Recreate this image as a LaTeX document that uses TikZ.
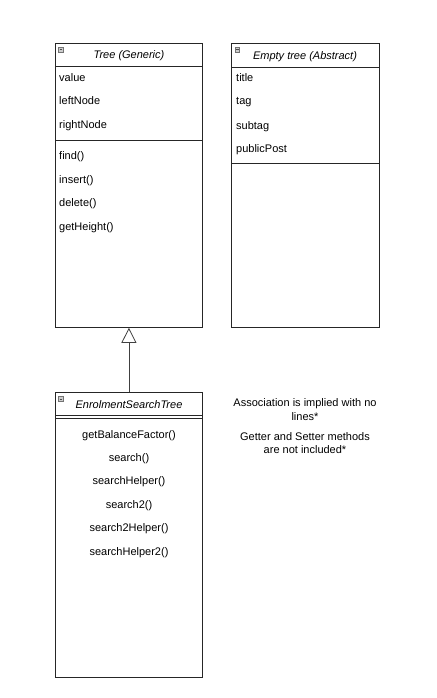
\documentclass[tikz,border=0pt]{standalone}
\usepackage{fontspec}
\setmainfont{Liberation Sans}
\usetikzlibrary{arrows.meta}
\begin{document}
\begin{tikzpicture}[x=1pt,y=-1pt,
  umlbox/.style={draw=black!85, line width=0.8pt, inner sep=0pt, anchor=north west, minimum width=147pt},
  sepline/.style={draw=black!85, line width=0.8pt},
  attr/.style={anchor=base west, inner sep=0pt, font=\fontsize{11}{13}\selectfont},
  cattr/.style={anchor=base, inner sep=0pt, font=\fontsize{11}{13}\selectfont},
  hdr/.style={anchor=base, inner sep=0pt, font=\fontsize{11}{13}\selectfont\itshape},
  note/.style={anchor=base, inner sep=0pt, font=\fontsize{11}{13}\selectfont},
  icon/.style={draw=black!55, fill=black!20, line width=0.4pt}
]
\useasboundingbox (0,0) rectangle (436,698);
\fill[white] (0,0) rectangle (436,698);

% Tree (Generic)
\node[umlbox, minimum height=284pt] (tree) at (55,43) {};
\draw[sepline] (55,66) -- (202,66);
\draw[sepline] (55,140) -- (202,140);
\draw[icon] (58.5,47.5) rectangle (63,52);
\draw[black!70, line width=0.5pt] (59.5,49.75) -- (62,49.75);
\node[hdr] (treeh) at (129,59) {Tree (Generic)};
\node[attr] (t1) at (59,81.5) {value};
\node[attr] (t2) at (59,105) {leftNode};
\node[attr] (t3) at (59,128.5) {rightNode};
\node[attr] (t4) at (59,159) {find()};
\node[attr] (t5) at (59,183) {insert()};
\node[attr] (t6) at (59,206) {delete()};
\node[attr] (t7) at (59,230) {getHeight()};

% Empty tree (Abstract)
\node[umlbox, minimum width=148pt, minimum height=284pt] (empty) at (231,43) {};
\draw[sepline] (231,67) -- (379,67);
\draw[sepline] (231,163) -- (379,163);
\draw[icon] (235,47.5) rectangle (239.5,52);
\draw[black!70, line width=0.5pt] (236,49.75) -- (238.5,49.75);
\node[hdr] (emptyh) at (305,59.5) {Empty tree (Abstract)};
\node[attr] (e1) at (236,82) {title};
\node[attr] (e2) at (236,105) {tag};
\node[attr] (e3) at (236,129) {subtag};
\node[attr] (e4) at (236,152) {publicPost};

% EnrolmentSearchTree
\node[umlbox, minimum height=285pt] (est) at (55,392) {};
\draw[sepline] (55,415) -- (202,415);
\draw[sepline] (55,418.5) -- (202,418.5);
\draw[icon] (58.5,396.5) rectangle (63,401);
\draw[black!70, line width=0.5pt] (59.5,398.75) -- (62,398.75);
\node[hdr] (esth) at (129,408) {EnrolmentSearchTree};
\node[cattr] (m1) at (129,438.5) {getBalanceFactor()};
\node[cattr] (m2) at (129,461) {search()};
\node[cattr] (m3) at (129,484.5) {searchHelper()};
\node[cattr] (m4) at (129,508) {search2()};
\node[cattr] (m5) at (129,531) {search2Helper()};
\node[cattr] (m6) at (129,555) {searchHelper2()};

% Generalization
\draw[black!75, line width=0.8pt, -{Triangle[open, length=15pt, width=15pt, line width=0.8pt]}] (est.north) -- (tree.south);

% Notes
\node[note] (n1a) at (305,406.5) {Association is implied with no};
\node[note] (n1b) at (305,420) {lines*};
\node[note] (n2a) at (305,440) {Getter and Setter methods};
\node[note] (n2b) at (305,453.5) {are not included*};
\end{tikzpicture}
\end{document}
